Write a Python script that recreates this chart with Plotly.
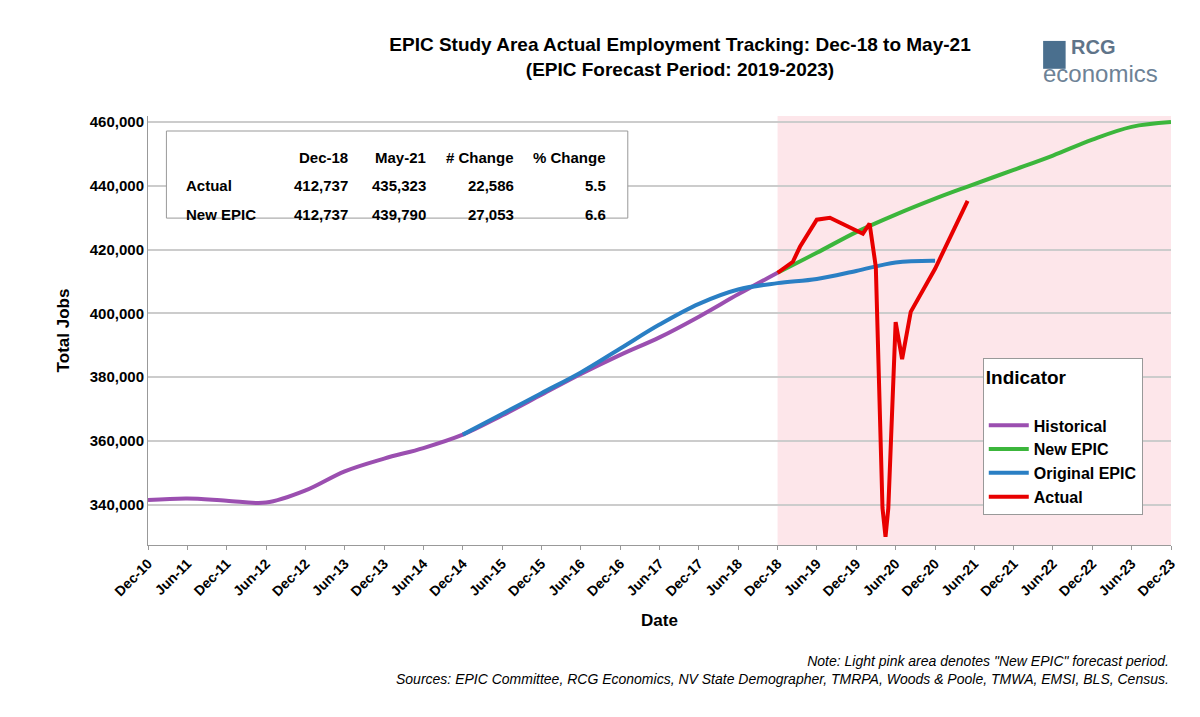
import plotly.graph_objects as go
import pandas as pd

hist_dates = ["2010-12-01","2011-06-01","2011-12-01","2012-06-01","2012-12-01","2013-06-01","2013-12-01","2014-06-01","2014-12-01","2015-06-01","2015-12-01","2016-06-01","2016-12-01","2017-06-01","2017-12-01","2018-06-01","2018-12-01"]
hist_vals = [341500,342000,341300,340700,344500,350500,354500,357800,362000,368000,374500,381000,387000,392500,399000,406000,412737]

orig_dates = ["2014-12-01","2015-06-01","2015-12-01","2016-06-01","2016-12-01","2017-06-01","2017-12-01","2018-06-01","2018-12-01","2019-06-01","2019-12-01","2020-06-01","2020-12-01"]
orig_vals = [362000,368500,375000,381500,389000,396500,403000,407500,409500,410800,413300,416000,416500]

new_dates = ["2018-12-01","2019-06-01","2019-12-01","2020-06-01","2020-12-01","2021-05-01","2021-12-01","2022-06-01","2022-12-01","2023-06-01","2023-12-01"]
new_vals = [412737,419000,425500,431000,436000,439790,445000,449500,454500,458500,460000]

act_dates = ["2018-12-01","2019-02-10","2019-03-15","2019-06-01","2019-08-01","2019-10-01","2020-01-01","2020-02-01","2020-03-01","2020-04-01","2020-04-15","2020-04-28","2020-06-01","2020-07-01","2020-08-10","2020-12-01","2021-05-01"]
act_vals = [412737,416200,420900,429400,430000,427900,425000,428200,414600,339000,330000,339000,397300,385700,400500,414000,435323]

tick_dates = pd.date_range("2010-12-01","2023-12-01",freq="6MS")
tick_text = ["<b>%s</b>" % d.strftime("%b-%y") for d in tick_dates]
ytick_vals = list(range(340000, 460001, 20000))
ytick_text = ["<b>{:,}</b>".format(v) for v in ytick_vals]

fig = go.Figure()
fig.add_shape(type="rect", xref="x", yref="paper", x0="2018-12-01", x1="2023-12-01", y0=0, y1=1,
              fillcolor="#fde6ea", line_width=0, layer="below")
fig.add_trace(go.Scatter(x=hist_dates, y=hist_vals, name="<b>Historical</b>", mode="lines", line=dict(color="#9b4fb0", width=4, shape="spline")))
fig.add_trace(go.Scatter(x=new_dates, y=new_vals, name="<b>New EPIC</b>", mode="lines", line=dict(color="#3cb63c", width=4, shape="spline")))
fig.add_trace(go.Scatter(x=orig_dates, y=orig_vals, name="<b>Original EPIC</b>", mode="lines", line=dict(color="#2a7fc4", width=4, shape="spline")))
fig.add_trace(go.Scatter(x=act_dates, y=act_vals, name="<b>Actual</b>", mode="lines", line=dict(color="#e80000", width=4)))

F = "Liberation Sans"
fig.update_layout(
    width=1200, height=717, paper_bgcolor="white", plot_bgcolor="white",
    margin=dict(l=140, r=37, t=108, b=180),
    font=dict(family=F, color="black", size=15),
    title=dict(text="<b>EPIC Study Area Actual Employment Tracking: Dec-18 to May-21<br>(EPIC Forecast Period: 2019-2023)</b>",
               x=0.56, xanchor="center", y=0.94, font=dict(size=19)),
    xaxis=dict(range=["2010-12-01","2023-12-01"], tickvals=list(tick_dates), ticktext=tick_text, tickangle=-45,
               showgrid=False, showline=True, linecolor="#999", ticks="outside", ticklen=4, tickcolor="#999",
               tickfont=dict(size=14, family=F), title=dict(text="<b>Date</b>", font=dict(size=17))),
    yaxis=dict(range=[327400, 461900], tickvals=ytick_vals, ticktext=ytick_text,
               showgrid=True, gridcolor="#cccccc", gridwidth=1.5, showline=True, linecolor="#999",
               tickfont=dict(size=15, family=F), title=dict(text="<b>Total Jobs</b>", font=dict(size=17))),
    legend=dict(x=0.816, y=0.436, xanchor="left", yanchor="top", bgcolor="white", bordercolor="#999", borderwidth=1,
                title=dict(text="<b>Indicator</b><br>"), font=dict(size=16), itemwidth=40, tracegroupgap=4),
)

fig.add_shape(type="rect", xref="paper", yref="paper", x0=0.018, x1=0.469, y0=0.762, y1=0.965,
              fillcolor="white", line=dict(color="#999", width=1))
rows = [["", "Dec-18", "May-21", "# Change", "% Change"],
        ["Actual", "412,737", "435,323", "22,586", "5.5"],
        ["New EPIC", "412,737", "439,790", "27,053", "6.6"]]
colx = [0.035, 0.197, 0.274, 0.36, 0.45]
rowy = [0.928, 0.862, 0.795]
for ri, r in enumerate(rows):
    for ci, c in enumerate(r):
        if not c:
            continue
        fig.add_annotation(xref="paper", yref="paper", x=colx[ci], y=rowy[ri], text="<b>%s</b>" % c,
                           showarrow=False, xanchor="left" if ci == 0 else "right", font=dict(size=15))

fig.add_annotation(xref="paper", yref="paper", x=1.0, y=-0.335, xanchor="right", showarrow=False, align="right",
                   text="<i>Note: Light pink area denotes \"New EPIC\" forecast period.<br>Sources: EPIC Committee, RCG Economics, NV State Demographer, TMRPA, Woods & Poole, TMWA, EMSI, BLS, Census.</i>",
                   font=dict(size=14))
fig.add_shape(type="rect", xref="paper", yref="paper", x0=0.875, x1=0.897, y0=1.11, y1=1.175,
              fillcolor="#4a6f8e", line_width=0)
fig.add_annotation(xref="paper", yref="paper", x=0.9, y=1.19, xanchor="left", yanchor="top", showarrow=False,
                   text="<b>RCG</b>", font=dict(size=20, color="#5f7489"))
fig.add_annotation(xref="paper", yref="paper", x=0.873, y=1.135, xanchor="left", yanchor="top", showarrow=False,
                   text="economics", font=dict(size=24, color="#6d8296"))

fig.write_html("out.html")
